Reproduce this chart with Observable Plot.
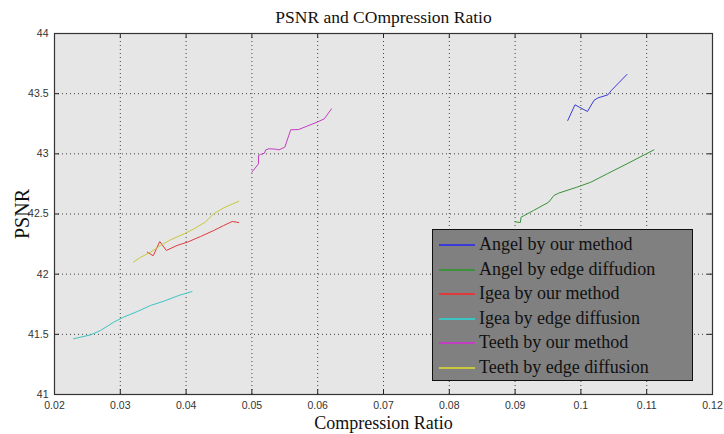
<!DOCTYPE html>
<html>
<head>
<meta charset="utf-8">
<script src="https://cdn.jsdelivr.net/npm/d3@7"></script>
<script src="https://cdn.jsdelivr.net/npm/@observablehq/plot@0.6"></script>
<style>
  html, body { margin: 0; padding: 0; background: #fff; }
  #wrap { position: relative; width: 724px; height: 434px; }
  #legend { position: absolute; left: 432px; top: 229px; width: 259px; height: 150px;
    background: #808080; border: 1px solid #111; box-sizing: content-box;
    font-family: "Liberation Serif", "Times New Roman", serif; font-size: 18px; color: #111; }
  .row { position: absolute; left: 0; height: 24px; line-height: 24px; white-space: nowrap; }
  .sw { position: absolute; left: 6px; top: 12px; width: 36px; height: 2px; }
  .lab { position: absolute; left: 46px; top: 0; }
</style>
</head>
<body>
<div id="wrap"></div>
<script>
// ---- data ----
const seriesNames = [
  "Angel by our method",
  "Angel by edge diffudion",
  "Igea by our method",
  "Igea by edge diffusion",
  "Teeth by our method",
  "Teeth by edge diffusion"
];
const seriesColors = ["#3a3ad8", "#3a913a", "#e03a3c", "#3cc4c4", "#c23ec2", "#c8c83e"];

const angelOurX = [0.0980, 0.0991, 0.1010, 0.1020, 0.1026, 0.1041, 0.1046, 0.1070];
const angelOurY = [43.277, 43.407, 43.352, 43.445, 43.465, 43.490, 43.525, 43.660];

const angelEdgeX = [0.0900, 0.0908, 0.0909, 0.0913, 0.0928, 0.0951, 0.0959, 0.0966, 0.0994, 0.1015, 0.1040, 0.1070, 0.1111];
const angelEdgeY = [42.435, 42.429, 42.473, 42.485, 42.529, 42.598, 42.654, 42.673, 42.723, 42.764, 42.834, 42.917, 43.033];

const igeaOurX = [0.0341, 0.0350, 0.0360, 0.0370, 0.0386, 0.0402, 0.0422, 0.0442, 0.0457, 0.0470, 0.0480];
const igeaOurY = [42.183, 42.153, 42.271, 42.197, 42.238, 42.266, 42.313, 42.363, 42.404, 42.438, 42.429];

const igeaEdgeX = [0.0229, 0.0240, 0.0255, 0.0270, 0.0290, 0.0305, 0.0326, 0.0346, 0.0366, 0.0389, 0.0409];
const igeaEdgeY = [41.463, 41.477, 41.496, 41.532, 41.601, 41.643, 41.690, 41.740, 41.775, 41.823, 41.856];

const teethOurX = [0.0500, 0.0510, 0.0510, 0.0513, 0.0519, 0.0521, 0.0526, 0.0536, 0.0541, 0.0550, 0.0559, 0.0571, 0.0599, 0.0610, 0.0621];
const teethOurY = [42.847, 42.917, 42.986, 42.994, 43.005, 43.033, 43.042, 43.039, 43.033, 43.055, 43.200, 43.202, 43.263, 43.291, 43.374];

const teethEdgeX = [0.0320, 0.0331, 0.0346, 0.0361, 0.0376, 0.0397, 0.0412, 0.0429, 0.0442, 0.0457, 0.0480];
const teethEdgeY = [42.100, 42.141, 42.183, 42.238, 42.285, 42.335, 42.377, 42.432, 42.502, 42.551, 42.606];

const xTicks = [0.02, 0.03, 0.04, 0.05, 0.06, 0.07, 0.08, 0.09, 0.10, 0.11, 0.12];
const yTicks = [41, 41.5, 42, 42.5, 43, 43.5, 44];

const titleText = "PSNR and COmpression Ratio";
const xLabel = "Compression Ratio";
const yLabel = "PSNR";

// ---- build table ----
const xs = [angelOurX, angelEdgeX, igeaOurX, igeaEdgeX, teethOurX, teethEdgeX];
const ys = [angelOurY, angelEdgeY, igeaOurY, igeaEdgeY, teethOurY, teethEdgeY];
const data = [];
seriesNames.forEach((name, i) => {
  xs[i].forEach((x, j) => data.push({series: name, x, y: ys[i][j]}));
});

const W = 724, H = 434, mL = 54, mR = 12, mT = 33, mB = 40;
const innerW = W - mL - mR, innerH = H - mT - mB;
const fmt = d => String(+d.toFixed(2));
const tickFont = "'Liberation Sans Narrow', 'Liberation Sans', Arial, sans-serif";
const serif = "'Liberation Serif', 'Times New Roman', serif";

const chart = Plot.plot({
  width: W, height: H,
  marginLeft: mL, marginRight: mR, marginTop: mT, marginBottom: mB,
  x: {domain: [0.02, 0.12], label: null},
  y: {domain: [41, 44], label: null},
  color: {domain: seriesNames, range: seriesColors},
  style: {background: "#fff"},
  marks: [
    Plot.frame({fill: "#e6e6e6", stroke: null}),
    Plot.gridX(xTicks, {stroke: "#333", strokeOpacity: 0.9, strokeDasharray: "1,3"}),
    Plot.gridY(yTicks, {stroke: "#333", strokeOpacity: 0.9, strokeDasharray: "1,3"}),
    Plot.tickX(xTicks, {x: d => d, insetTop: innerH - 5, stroke: "#222"}),
    Plot.tickX(xTicks, {x: d => d, insetBottom: innerH - 5, stroke: "#222"}),
    Plot.tickY(yTicks, {y: d => d, insetRight: innerW - 5, stroke: "#222"}),
    Plot.tickY(yTicks, {y: d => d, insetLeft: innerW - 5, stroke: "#222"}),
    Plot.line(data, {x: "x", y: "y", z: "series", stroke: "series", strokeWidth: 1}),
    Plot.frame({stroke: "#333", strokeWidth: 1.2}),
    Plot.axisX(xTicks, {tickSize: 0, tickPadding: 7, tickFormat: fmt, fontSize: 10.5, fontFamily: tickFont, fill: "#333", label: null}),
    Plot.axisY(yTicks, {tickSize: 0, tickPadding: 6, tickFormat: fmt, fontSize: 10.5, fontFamily: tickFont, fill: "#333", label: null}),
    Plot.text([titleText], {frameAnchor: "top", dy: -16, lineAnchor: "middle", textAnchor: "middle", fontSize: 17.5, fontFamily: serif, fill: "#111"}),
    Plot.text([xLabel], {frameAnchor: "bottom", dy: 29, lineAnchor: "middle", textAnchor: "middle", fontSize: 18, fontFamily: serif, fill: "#111"}),
    Plot.text([yLabel], {frameAnchor: "left", dx: -32, rotate: -90, lineAnchor: "middle", textAnchor: "middle", fontSize: 20, fontFamily: serif, fill: "#111"})
  ]
});

const wrap = document.getElementById("wrap");
wrap.appendChild(chart);

// legend
const leg = document.createElement("div");
leg.id = "legend";
seriesNames.forEach((name, i) => {
  const row = document.createElement("div");
  row.className = "row";
  row.style.top = Math.round(2 + i * 24.6) + "px";
  row.style.width = "100%";
  const sw = document.createElement("div");
  sw.className = "sw";
  sw.style.background = seriesColors[i];
  const lab = document.createElement("div");
  lab.className = "lab";
  lab.textContent = name;
  row.appendChild(sw);
  row.appendChild(lab);
  leg.appendChild(row);
});
wrap.appendChild(leg);
</script>
</body>
</html>
